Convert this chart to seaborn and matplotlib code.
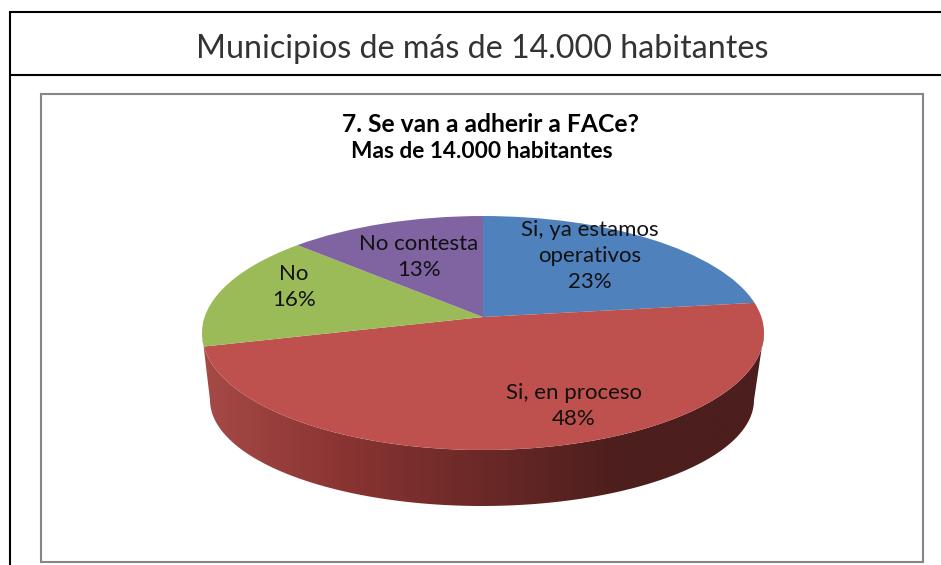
import numpy as np
import matplotlib
matplotlib.use('Agg')
import matplotlib.pyplot as plt
import seaborn as sns
from matplotlib.colors import LinearSegmentedColormap
from matplotlib.patches import Polygon
from matplotlib.transforms import Transform

# Data
categories = ['Si, ya estamos\noperativos', 'Si, en proceso', 'No', 'No contesta']
values = [23, 48, 16, 13]
slice_colors = ['#4F81BD', '#BE504D', '#9BBB59', '#8064A2']
page_title = 'Municipios de más de 14.000 habitantes'
chart_title = ['7. Se van a adherir a FACe?', 'Mas de 14.000 habitantes']

# where the labels sit, in image pixels
label_pos = [(590, 256), (574, 406), (294, 287), (419, 257)]


class Tilt(Transform):
    # puts the flat pie onto the tilted disc, in image pixels
    input_dims = 2
    output_dims = 2
    is_separable = False
    has_inverse = False

    def transform_non_affine(self, xy):
        xy = np.asarray(xy, dtype=float)
        d = 1 + 0.1368 * xy[:, 1]
        return np.column_stack((483 + 278.4 * xy[:, 0] / d, 317 - 114.8 * xy[:, 1] / d))


sns.set_theme(style='white')
plt.rcParams['font.family'] = ['Lato', 'DejaVu Sans']

fig = plt.figure(figsize=(9.41, 5.65), dpi=100)
ax = fig.add_axes([0, 0, 1, 1])

wedges, _ = ax.pie(values, colors=sns.color_palette(slice_colors), startangle=90,
                   counterclock=False, wedgeprops={'linewidth': 0})
tilt = Tilt()
for w in wedges:
    w.set_transform(tilt + ax.transData)
    w.set_zorder(3)

# side of the disc: front of the top rim plus the smaller bottom rim
t = np.linspace(0, np.pi, 120)
rim = tilt.transform_non_affine(np.column_stack((np.cos(t), -np.sin(t))))
rim = rim[rim[:, 1] > 325]
rim = rim[np.argsort(rim[:, 0])]
low = np.column_stack((482 + 272 * np.cos(t), 400 + 106 * np.sin(t)))
side = Polygon(np.vstack((rim, low)), transform=ax.transData, facecolor='none', edgecolor='none')
ax.add_patch(side)
shade = LinearSegmentedColormap.from_list('shade', ['#A64A47', '#8A3432', '#6A2927', '#4C1E1D', '#4C1E1D'])
grad = ax.imshow(np.linspace(0, 1, 256)[None, :], cmap=shade, extent=(202, 764, 506, 330),
                 aspect='auto', zorder=2)
grad.set_clip_path(side)

# page frame and chart frame
ax.plot([10, 10, 941], [565, 12, 12], color='black', lw=1.5, solid_joinstyle='miter')
ax.plot([10, 941], [75, 75], color='black', lw=1.5)
ax.plot([41, 41, 923, 923, 41], [562, 94, 94, 562, 562], color='#868686', lw=1.5, solid_joinstyle='miter')

ax.text(482, 49, page_title, ha='center', va='center', fontsize=23.2, color='#333333', zorder=5)
ax.text(491, 124, chart_title[0], ha='center', va='center', fontsize=17.7, fontweight='bold', color='black')
ax.text(482, 151, chart_title[1], ha='center', va='center', fontsize=16.3, fontweight='bold', color='black')

for name, v, (x, y) in zip(categories, values, label_pos):
    ax.text(x, y, f'{name}\n{v}%', ha='center', va='center', fontsize=16, color='#111111',
            linespacing=1.35, zorder=5)

ax.set_xlim(0, 941)
ax.set_ylim(565, 0)
ax.set_aspect('auto')
ax.axis('off')

fig.savefig('out.png', dpi=100)
